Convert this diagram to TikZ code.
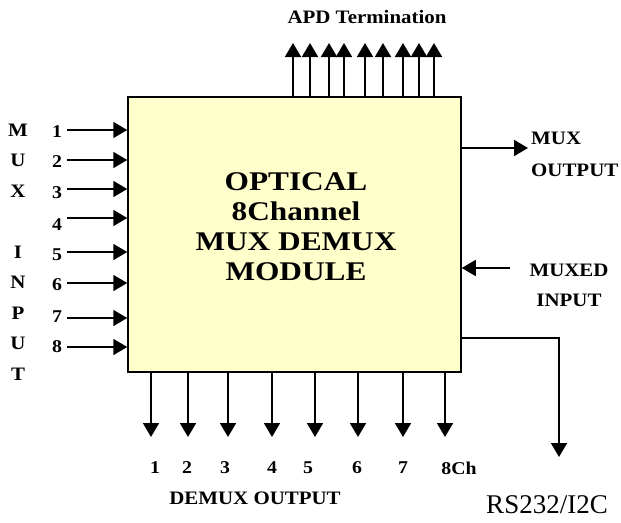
\documentclass[tikz,border=0pt]{standalone}
\usepackage{fontspec}
\setmainfont{Liberation Serif}
\newfontfamily\widefont[FakeStretch=1.1]{Liberation Serif}
\newfontfamily\titlefont[FakeStretch=1.16]{Liberation Serif}
\usepackage{tikz}
\usetikzlibrary{arrows.meta,positioning,calc}
\definecolor{PaleYellow}{HTML}{FFFFCC}

\begin{document}
\begin{tikzpicture}[
  x=1pt,y=-1pt,
  every node/.style={font=\widefont\bfseries\fontsize{19}{21}\selectfont,inner sep=0pt,align=center},
  numlab/.style={font=\widefont\bfseries\fontsize{18}{20}\selectfont},
  modbox/.style={draw=black,line width=1.5pt,fill=PaleYellow,minimum width=333pt,minimum height=275pt},
  arr/.style={-{Triangle[length=14pt,width=16pt]},line width=1.8pt,black}
]
\useasboundingbox (0,0) rectangle (621,522);
\node[modbox] (mod) at (294.5,234.5) {};
\node[font=\titlefont\bfseries\fontsize{27}{30}\selectfont] (title) at (296,227) {OPTICAL\\8Channel\\MUX DEMUX\\MODULE};
% mux inputs on the left
\node[font=\widefont\bfseries\fontsize{19}{30.5}\selectfont] (muxin) at (18,252) {M\\U\\X\\ \\I\\N\\P\\U\\T};
\foreach \n/\y/\ly in {1/130/132,2/160/162,3/189/193,4/218/225,5/252/255,6/283/285,7/318/317,8/347/347}{
  \coordinate (in\n) at (67,\y);
  \node[numlab] (inlab\n) at (57,\ly) {\n};
  \draw[arr] (in\n) -- (in\n -| mod.west);
}
% APD termination on top
\node (apd) at (367,17) {APD Termination};
\foreach \x [count=\i] in {293,310,329,344,365,383,403,419,434}{
  \coordinate (apd\i) at (\x,43);
  \draw[arr] (apd\i |- mod.north) -- (apd\i);
}
% demux outputs at the bottom
\foreach \x/\lx/\t [count=\i] in {151/155/1,188/187/2,228/225/3,272/272/4,315/308/5,358/357/6,403/403/7,445/459/8Ch}{
  \coordinate (out\i) at (\x,437);
  \node[numlab] (outlab\i) at (\lx,468) {\t};
  \draw[arr] (out\i |- mod.south) -- (out\i);
}
\node (demux) at (255,498) {DEMUX OUTPUT};
% right side
\coordinate (muxo) at (528,148);
\draw[arr] (muxo -| mod.east) -- (muxo);
\node[align=left,anchor=west,font=\widefont\bfseries\fontsize{19}{32}\selectfont] (muxolab) at (531,154) {MUX\\OUTPUT};
\coordinate (muxi) at (510,268);
\draw[arr] (muxi) -- (muxi -| mod.east);
\node[font=\widefont\bfseries\fontsize{19}{30}\selectfont] (muxilab) at (569,285) {MUXED\\INPUT};
\coordinate (rs) at (559,457);
\draw[arr] (mod.east |- 0,338) -| (rs);
\node[font=\fontsize{27}{29}\selectfont] (rslab) at (547,505) {RS232/I2C};
\end{tikzpicture}
\end{document}
